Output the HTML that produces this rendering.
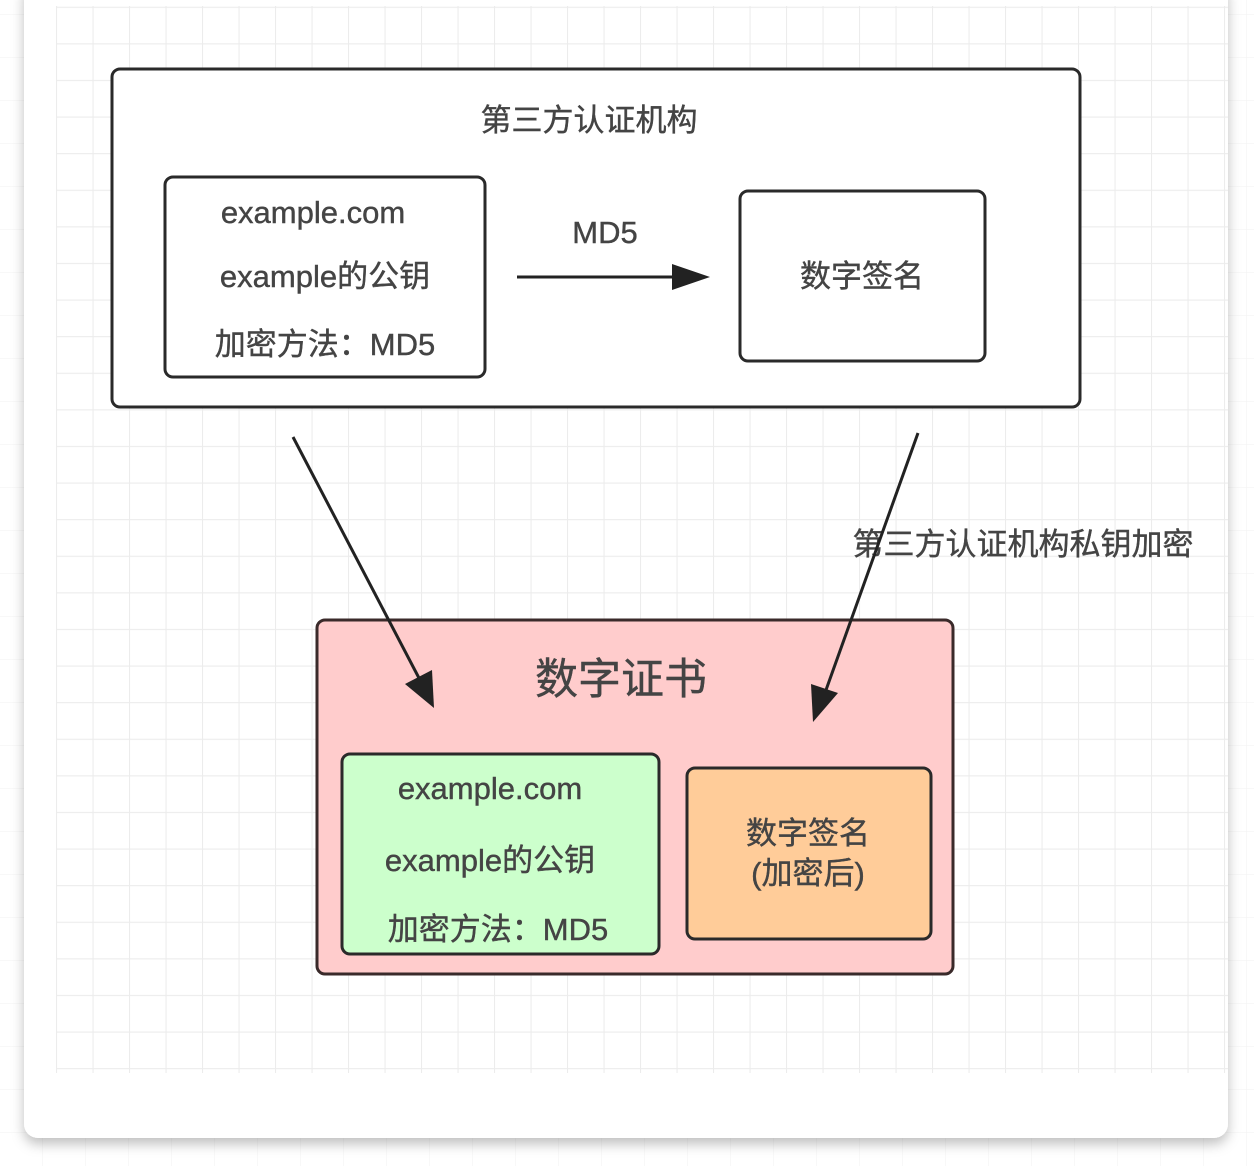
<!DOCTYPE html>
<html><head><meta charset="utf-8"><style>
html,body{margin:0;padding:0;background:#fff;}
body{width:1254px;height:1166px;overflow:hidden;position:relative;font-family:"Liberation Sans","Noto Sans CJK SC",sans-serif;}
</style></head><body>
<svg width="1254" height="1166" viewBox="0 0 1254 1166" xmlns="http://www.w3.org/2000/svg" style="position:absolute;left:0;top:0">
<defs>
<pattern id="g0" width="43" height="43" patternUnits="userSpaceOnUse" x="0" y="15"><path d="M43 0V43M0 43H43" stroke="#f2f2f2" stroke-width="1" fill="none"/></pattern>
<pattern id="g1" width="36.5" height="36.6" patternUnits="userSpaceOnUse" x="56" y="6.7"><path d="M0.5 0V36.6M0 0.5H36.5" stroke="#ececec" stroke-width="1.2" fill="none"/></pattern>
<filter id="sh" x="-5%" y="-5%" width="110%" height="110%"><feDropShadow dx="0" dy="6" stdDeviation="6" flood-color="#000" flood-opacity="0.25"/></filter>
</defs>
<rect width="1254" height="1166" fill="url(#g0)"/>
<rect x="24" y="-20" width="1204" height="1158" rx="14" fill="#fff" filter="url(#sh)"/>
<rect x="56" y="6" width="1172" height="1067" fill="url(#g1)"/>

<g font-family="Liberation Sans, Noto Sans CJK SC, sans-serif" fill="#444" stroke="#444" stroke-width="0.4">
<rect x="112" y="69" width="968" height="338" rx="8" fill="#fff" stroke="#2a2a2a" stroke-width="3"/>
<text x="589" y="131" font-size="31" text-anchor="middle">第三方认证机构</text>
<rect x="165" y="177" width="320" height="200" rx="8" fill="#fff" stroke="#2a2a2a" stroke-width="3"/>
<text x="313" y="223" font-size="31" text-anchor="middle">example.com</text>
<text x="325" y="287" font-size="31" text-anchor="middle">example的公钥</text>
<text x="325" y="355" font-size="31" text-anchor="middle">加密方法：MD5</text>
<text x="605" y="243" font-size="31" text-anchor="middle">MD5</text>
<line x1="517" y1="277" x2="690" y2="277" stroke="#222" stroke-width="3"/>
<path d="M672 264L710 277L672 290z" fill="#222" stroke="none"/>
<rect x="740" y="191" width="245" height="170" rx="8" fill="#fff" stroke="#2a2a2a" stroke-width="3"/>
<text x="862" y="287" font-size="31" text-anchor="middle">数字签名</text>

<text x="1023" y="555" font-size="31" text-anchor="middle">第三方认证机构私钥加密</text>

<rect x="317" y="620" width="636" height="354" rx="8" fill="#ffcccc" stroke="#3a2a2a" stroke-width="3"/>
<text x="621" y="694" font-size="43" text-anchor="middle">数字证书</text>
<rect x="342" y="754" width="317" height="200" rx="8" fill="#ccffcc" stroke="#2a2a2a" stroke-width="3"/>
<text x="490" y="799" font-size="31" text-anchor="middle">example.com</text>
<text x="490" y="871" font-size="31" text-anchor="middle">example的公钥</text>
<text x="498" y="940" font-size="31" text-anchor="middle">加密方法：MD5</text>
<rect x="687" y="768" width="244" height="171" rx="8" fill="#ffcc99" stroke="#2a2a2a" stroke-width="3"/>
<text x="808" y="844" font-size="31" text-anchor="middle">数字签名</text>
<text x="808" y="884" font-size="31" text-anchor="middle">(加密后)</text>

<line x1="293" y1="437" x2="420" y2="680" stroke="#222" stroke-width="3"/>
<path d="M405 684L434 708L432 670z" fill="#222" stroke="none"/>
<line x1="918" y1="433" x2="826" y2="690" stroke="#222" stroke-width="3"/>
<path d="M811 684L813 722L838 693z" fill="#222" stroke="none"/>
</g>
</svg>
</body></html>
